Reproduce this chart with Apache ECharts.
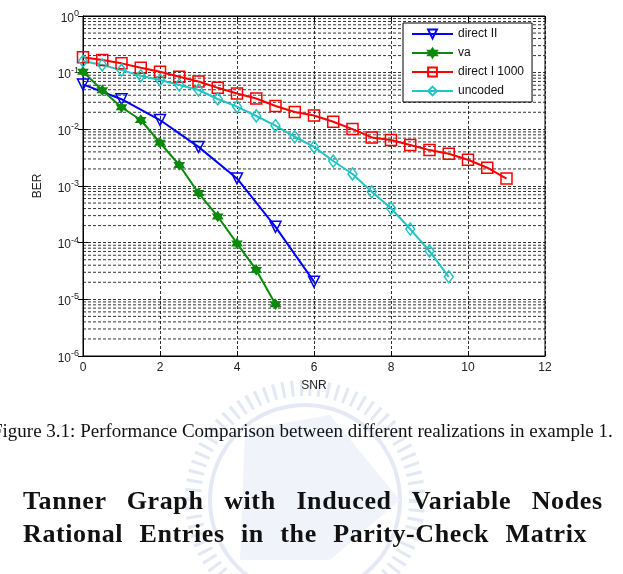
<!DOCTYPE html>
<html>
<head>
<meta charset="utf-8">
<script src="https://cdn.jsdelivr.net/npm/echarts@6/dist/echarts.min.js"></script>
<style>
  html, body { margin: 0; padding: 0; background: #fff; }
  #wrap { position: relative; width: 623px; height: 574px; overflow: hidden; }
  #chart { position: absolute; left: 0; top: 0; width: 623px; height: 574px; }
  .caption { position: absolute; left: -8px; top: 420px; white-space: nowrap;
    font-family: "Liberation Serif", serif; font-size: 19px; color: #111; }
  .heading { position: absolute; left: 23px; white-space: nowrap;
    font-family: "Liberation Serif", serif; font-weight: bold; font-size: 26px;
    color: #111; letter-spacing: 0.6px; }
</style>
</head>
<body>
<div id="wrap">
  <div id="chart"></div>
  <div class="caption">Figure 3.1: Performance Comparison between different realizations in example 1.</div>
  <div class="heading" style="top:486px; word-spacing:13.6px;">Tanner Graph with Induced Variable Nodes for</div>
  <div class="heading" style="top:519px; word-spacing:9.3px;">Rational Entries in the Parity-Check Matrix</div>
</div>
<script>
// BER vs SNR
const snrDirectII = [0, 1, 2, 3, 4, 5, 6];
const berDirectII = [0.062, 0.034, 0.0146, 0.0049, 0.00136, 1.9e-4, 2.05e-5];

const snrVa = [0, 0.5, 1, 1.5, 2, 2.5, 3, 3.5, 4, 4.5, 5];
const berVa = [0.104, 0.049, 0.0245, 0.0146, 0.0058, 0.00235, 7.5e-4, 2.9e-4, 9.7e-5, 3.3e-5, 8.2e-6];

const snrDirectI = [0, 0.5, 1, 1.5, 2, 2.5, 3, 3.5, 4, 4.5, 5, 5.5, 6, 6.5, 7, 7.5, 8, 8.5, 9, 9.5, 10, 10.5, 11];
const berDirectI = [0.187, 0.167, 0.146, 0.122, 0.104, 0.085, 0.070, 0.054, 0.043, 0.035, 0.0258, 0.0202,
  0.0175, 0.0136, 0.0101, 0.0072, 0.0065, 0.0053, 0.0043, 0.0037, 0.0029, 0.0021, 0.00135];

const snrUncoded = [0, 0.5, 1, 1.5, 2, 2.5, 3, 3.5, 4, 4.5, 5, 5.5, 6, 6.5, 7, 7.5, 8, 8.5, 9, 9.5];
const berUncoded = [0.16, 0.137, 0.111, 0.0885, 0.0743, 0.0606, 0.0494, 0.0343, 0.0251, 0.0172, 0.0116,
  0.0074, 0.0049, 0.00276, 0.00163, 0.00079, 0.000404, 0.000174, 7.1e-5, 2.5e-5];

const seriesNames = ['direct II', 'va', 'direct I 1000', 'uncoded'];

// minor grid lines of the log axis: 2..9 x 10^k
const minorGrid = [];
for (let k = -6; k <= -1; k++) {
  for (let m = 2; m <= 9; m++) minorGrid.push([m * Math.pow(10, k)]);
}

const pairs = (xs, ys) => xs.map((x, i) => [x, ys[i]]);
const starPath = 'path://M0,-10 L2.9,-5 L8.66,-5 L5.8,0 L8.66,5 L2.9,5 L0,10 L-2.9,5 L-8.66,5 L-5.8,0 L-8.66,-5 L-2.9,-5 Z';
const axisFont = 'Liberation Sans, Arial, sans-serif';
const gridDash = { color: '#000', width: 0.8, type: [3, 2] };

function lineSeries(name, data, color, symbol, size, filled, extra) {
  return Object.assign({
    name: name,
    type: 'line',
    data: data,
    symbol: symbol,
    symbolSize: size,
    showAllSymbol: true,
    lineStyle: { color: color, width: 2 },
    itemStyle: { color: filled ? color : 'rgba(255,255,255,0)', borderColor: color, borderWidth: 1.5 },
    emphasis: { disabled: true },
    animation: false,
    z: 5
  }, extra || {});
}

const chart = echarts.init(document.getElementById('chart'));

const option = {
  backgroundColor: 'transparent',
  textStyle: { fontFamily: axisFont },
  grid: { left: 83, right: 78, top: 16, bottom: 218, show: true, borderColor: '#000', borderWidth: 1 },
  legend: {
    data: seriesNames,
    orient: 'vertical',
    left: 403,
    top: 23,
    padding: [5, 8, 5, 8],
    itemWidth: 41,
    itemHeight: 11,
    itemGap: 7,
    backgroundColor: '#fff',
    borderColor: '#000',
    borderWidth: 1,
    textStyle: { color: '#111', fontSize: 12, fontFamily: axisFont },
    z: 10
  },
  graphic: [
    // faint watermark behind the caption
    { type: 'circle', shape: { cx: 305, cy: 500, r: 112 }, silent: true, z: -10,
      style: { fill: 'none', stroke: '#e3e8f5', lineWidth: 16, lineDash: [3, 6] } },
    { type: 'circle', shape: { cx: 305, cy: 500, r: 95 }, silent: true, z: -10,
      style: { fill: 'none', stroke: '#e5e9f5', lineWidth: 4 } },
    { type: 'polygon', shape: { points: [[245, 430], [330, 415], [400, 500], [330, 560], [240, 560]] }, silent: true, z: -10,
      style: { fill: '#f1f3fa' } }
  ],
  xAxis: [{
    type: 'value', min: 0, max: 12, interval: 2,
    name: 'SNR', nameLocation: 'middle', nameGap: 24,
    nameTextStyle: { color: '#222', fontSize: 12, fontFamily: axisFont },
    axisLine: { show: true, lineStyle: { color: '#000', width: 1 } },
    axisTick: { show: true, inside: true, length: 5, lineStyle: { color: '#000' } },
    axisLabel: { color: '#222', fontSize: 12, margin: 6, fontFamily: axisFont },
    splitLine: { show: true, lineStyle: gridDash }
  }, {
    type: 'value', min: 0, max: 12, interval: 2, position: 'top',
    axisLine: { show: true, lineStyle: { color: '#000' } },
    axisTick: { show: true, inside: true, length: 5, lineStyle: { color: '#000' } },
    axisLabel: { show: false },
    splitLine: { show: false }
  }],
  yAxis: [{
    type: 'log', logBase: 10, min: 1e-6, max: 1, interval: 1,
    name: 'BER', nameLocation: 'middle', nameGap: 39,
    nameTextStyle: { color: '#222', fontSize: 12, fontFamily: axisFont },
    axisLine: { show: true, lineStyle: { color: '#000', width: 1 } },
    axisTick: { show: true, inside: true, length: 5, lineStyle: { color: '#000' } },
    axisLabel: {
      margin: 4,
      formatter: v => '{b|10}{s|' + Math.round(Math.log10(v)) + '}',
      rich: {
        b: { fontSize: 12, color: '#222', fontFamily: axisFont, padding: [5, 0, 0, 0] },
        s: { fontSize: 9, color: '#222', fontFamily: axisFont, padding: [0, 0, 5, 0] }
      }
    },
    splitLine: { show: true, lineStyle: gridDash }
  }, {
    type: 'log', logBase: 10, min: 1e-6, max: 1, interval: 1, position: 'right',
    axisLine: { show: true, lineStyle: { color: '#000' } },
    axisTick: { show: true, inside: true, length: 5, lineStyle: { color: '#000' } },
    axisLabel: { show: false },
    splitLine: { show: false }
  }],
  series: [
    {
      name: 'minor grid',
      type: 'custom',
      data: minorGrid,
      silent: true,
      animation: false,
      z: 1,
      encode: { y: 0 },
      renderItem: (params, api) => {
        const v = api.value(0);
        const a = api.coord([0, v]);
        const b = api.coord([12, v]);
        return {
          type: 'line',
          shape: { x1: a[0], y1: a[1], x2: b[0], y2: b[1] },
          style: { stroke: '#000', lineWidth: 0.8, lineDash: [3, 2] }
        };
      }
    },
    lineSeries('direct II', pairs(snrDirectII, berDirectII), '#0000ff', 'triangle', 11, false, { symbolRotate: 180 }),
    lineSeries('va', pairs(snrVa, berVa), '#0a8a0a', starPath, 9, true),
    lineSeries('direct I 1000', pairs(snrDirectI, berDirectI), '#ff0000', 'rect', 11, false),
    lineSeries('uncoded', pairs(snrUncoded, berUncoded), '#22c4c4', 'diamond', [9, 12], false)
  ]
};

chart.setOption(option);
window.addEventListener('resize', () => chart.resize());
</script>
</body>
</html>
